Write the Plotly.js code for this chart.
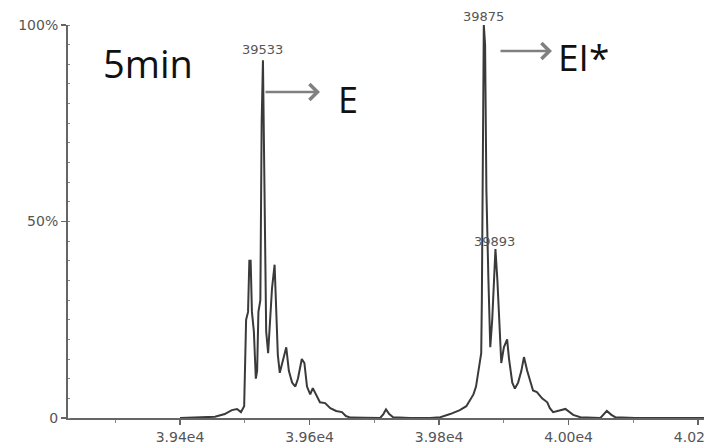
<!DOCTYPE html>
<html>
<head>
<meta charset="utf-8">
<script src="https://cdn.plot.ly/plotly-3.0.1.min.js"></script>
<style>html,body{margin:0;padding:0;background:#fff;}#chart{width:704px;height:447px;}</style>
</head>
<body>
<div id="chart"></div>
<script>
// Deconvoluted mass spectrum, 5 min (mass in Da, relative intensity in %)
const massDa = [
  39400, 39454, 39469, 39480, 39488, 39494, 39499, 39502, 39505, 39507, 39509, 39511, 39514, 39517,
  39519, 39521, 39524, 39526, 39528, 39529, 39531, 39533, 39536, 39539, 39542, 39546, 39548, 39551,
  39554, 39559, 39564, 39568, 39573, 39578, 39582, 39588, 39592, 39596, 39601, 39605, 39610, 39616,
  39624, 39632, 39641, 39650, 39656, 39663, 39709, 39714, 39718, 39723, 39729, 39755,
  39786, 39802, 39817, 39832, 39842, 39848, 39853, 39857, 39860, 39863, 39865, 39866, 39868, 39869,
  39871, 39873, 39876, 39879, 39882, 39885, 39887, 39890, 39893, 39896, 39900, 39905, 39908, 39913,
  39917, 39922, 39927, 39931, 39936, 39941, 39945, 39951, 39959, 39967, 39971, 39976, 39984, 39995,
  40007, 40018, 40049, 40055, 40059, 40066, 40072, 40103, 40209
];
const intensityPct = [
  0, 0.3, 1, 2, 2.3, 1.5, 3, 25, 27, 40, 40, 27, 22, 10,
  12, 27, 30, 75, 91, 75, 36, 22, 16.5, 25, 33, 39, 30, 16,
  11.5, 15, 18, 12, 9, 8, 10, 15, 14, 8, 6, 7.6, 6, 4,
  3.8, 2.5, 1.8, 1.5, 0.5, 0.1, 0, 1, 2.2, 1, 0.2, 0,
  0, 0.2, 1, 2, 3, 4.5, 6, 8, 11.5, 14, 16.5, 30, 95, 100,
  95, 58, 36, 18, 25, 38, 43, 35, 22, 14, 18, 20, 15, 9,
  7.5, 9, 12, 15.5, 12, 9, 7, 6.6, 5, 4, 2.5, 1.5, 1.8, 2.3,
  0.8, 0.2, 0, 1, 1.8, 0.8, 0.2, 0, 0
];
const xTickVals = [39400, 39600, 39800, 40000, 40200];
const xTickText = ['3.94e4', '3.96e4', '3.98e4', '4.00e4', '4.02e4'];
const yTickVals = [0, 50, 100];
const yTickText = ['0', '50%', '100%'];
const peakLabels = ['39533', '39875', '39893'];
const speciesLabels = ['E', 'EI*'];
const panelLabel = '5min';

// layout helpers (pixel -> paper)
const L = 68, R = 704, T = 25, B = 418;
const px = p => (p - L) / (R - L);
const py = p => (B - p) / (B - T);

const trace = {
  x: massDa, y: intensityPct, type: 'scatter', mode: 'lines',
  line: {color: '#3a3a3a', width: 2, shape: 'linear'}, hoverinfo: 'skip'
};

const tickFont = {family: 'DejaVu Sans', size: 14, color: '#555'};
const peakFont = {family: 'DejaVu Sans', size: 13, color: '#555'};
const bigFont = {family: 'Open Sans', color: '#111'};

function txt(x, y, text, font) {
  return {xref: 'paper', yref: 'paper', x: px(x), y: py(y), text: text, showarrow: false,
          xanchor: 'center', yanchor: 'middle', font: font};
}

const annotations = [
  txt(262, 50, peakLabels[0], peakFont),
  txt(483, 16, peakLabels[1], peakFont),
  txt(494, 241, peakLabels[2], peakFont),
  txt(148, 63, panelLabel, Object.assign({size: 38}, bigFont)),
  txt(348, 99, speciesLabels[0], Object.assign({size: 36}, bigFont)),
  txt(583, 57, speciesLabels[1], Object.assign({size: 37}, bigFont)),
  // arrows
  {xref: 'paper', yref: 'paper', x: px(320), y: py(92), ax: -56, ay: 0, text: '', showarrow: true,
   arrowhead: 4, arrowsize: 1.3, arrowwidth: 2.4, arrowcolor: '#808080'},
  {xref: 'paper', yref: 'paper', x: px(552), y: py(51), ax: -53, ay: 0, text: '', showarrow: true,
   arrowhead: 4, arrowsize: 1.3, arrowwidth: 2.4, arrowcolor: '#808080'}
];

const layout = {
  width: 704, height: 447,
  margin: {l: L, r: 704 - R, t: T, b: 447 - B, pad: 0},
  paper_bgcolor: '#fff', plot_bgcolor: '#fff',
  showlegend: false,
  xaxis: {
    range: [39227, 40209], showgrid: false, zeroline: false,
    showline: true, linecolor: '#666', linewidth: 2,
    tickmode: 'array', tickvals: xTickVals, ticktext: xTickText,
    ticks: 'outside', ticklen: 5, tickwidth: 1.5, tickcolor: '#666', tickfont: tickFont,
    ticklabeloverflow: 'allow',
    minor: {dtick: 100, tick0: 39300, ticks: 'outside', ticklen: 3, tickcolor: '#888', tickwidth: 1}
  },
  yaxis: {
    range: [0, 100], showgrid: false, zeroline: false,
    showline: true, linecolor: '#666', linewidth: 2,
    tickmode: 'array', tickvals: yTickVals, ticktext: yTickText,
    ticks: 'outside', ticklen: 5, tickwidth: 1.5, tickcolor: '#666', tickfont: tickFont,
    minor: {dtick: 5, tick0: 0, ticks: 'inside', ticklen: 2, tickcolor: '#888', tickwidth: 1}
  },
  annotations: annotations
};

Plotly.newPlot('chart', [trace], layout, {displayModeBar: false, staticPlot: true});
</script>
</body>
</html>
